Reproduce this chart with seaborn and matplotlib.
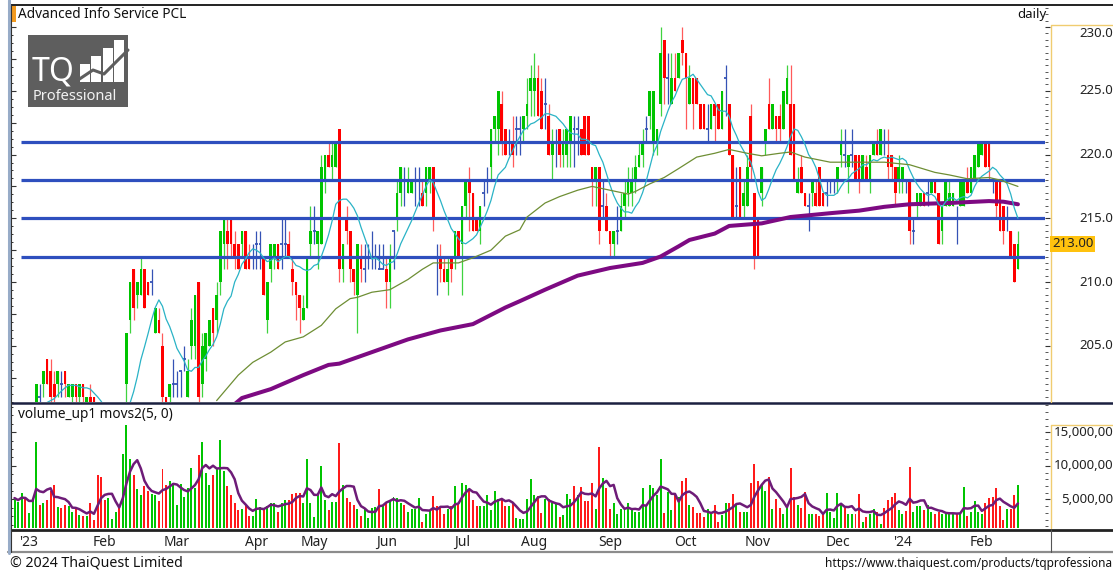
import numpy as np
import pandas as pd
import matplotlib
matplotlib.use("Agg")
import matplotlib.pyplot as plt
from matplotlib.patches import Rectangle
from matplotlib.ticker import MultipleLocator
from matplotlib.transforms import blended_transform_factory
import seaborn as sns

# ---------------- data (daily OHLC, THB) ----------------
open_px = [
    199, 199.5, 199.5, 200, 199, 199.5, 200, 201, 202, 204,
    203, 202, 202, 202, 203, 201, 201, 202, 201, 202,
    200.5, 201, 201, 200, 199, 198.5, 197.5, 198, 198.5, 199,
    198.5, 202, 207, 211, 209, 209, 211, 210, 210, 206,
    207, 205, 201, 201, 202, 202, 203, 204, 201, 205,
    205, 210, 202, 204, 205, 208, 207, 210, 213, 214,
    215, 213, 213, 213, 214, 212, 212, 213, 213, 212,
    207, 211, 212, 213, 213, 213, 213, 211, 210, 209,
    207, 208, 213, 214, 213, 213, 218, 220, 219, 219,
    222, 211, 215, 214, 211, 209, 212, 211, 212, 212,
    212, 211, 211, 211, 210, 214, 215, 217, 218, 217,
    217, 218, 218, 217, 217, 218, 219, 212, 212, 211,
    210, 212, 212, 214, 213, 216, 218, 217, 215, 214,
    217, 218, 219, 222, 222, 224, 222, 221, 221, 222,
    222, 222, 223, 225, 225, 226, 225, 224, 223, 220,
    221, 222, 220, 220, 221, 222, 222, 222, 223, 223,
    219, 218, 219, 216, 216, 214, 213, 214, 214, 216,
    217, 217, 218, 219, 220, 222, 223, 221, 221, 224,
    229, 226, 224, 226, 226, 229, 228, 224, 226, 226,
    224, 224, 222, 222, 224, 224, 222, 226, 224, 220,
    216, 219, 216, 216, 223, 217, 215, 217, 221, 224,
    222, 223, 223, 222, 224, 224, 224, 217, 219, 217,
    216, 217, 217, 219, 217, 217, 218, 218, 218, 220,
    220, 219, 220, 220, 220, 218, 219, 218, 220, 221,
    220, 221, 220, 220, 219, 218, 218, 218, 218, 214,
    216, 216, 217, 217, 217, 218, 217, 214, 216, 216,
    216, 215, 216, 216, 218, 217, 218, 219, 220, 221,
    221, 218, 218, 218, 216, 215, 214, 213, 211]

high_px = [
    200, 200, 200.5, 200.5, 200, 200.5, 202, 202, 203, 204,
    204, 203, 203, 203, 203, 202, 202, 202, 202, 202,
    201, 202, 201, 200.5, 199.5, 199, 198.5, 199, 199.5, 199.5,
    200, 206, 210, 211, 210, 212, 211, 210, 211, 208,
    208, 206, 201, 202, 204, 203, 203, 205, 204, 208,
    209, 210, 206, 206, 207, 208, 210, 214, 215, 215,
    215, 214, 213, 214, 214, 213, 213, 214, 214, 212,
    210, 213, 213, 213, 215, 215, 214, 212, 210, 209,
    209, 212, 216, 216, 214, 220, 220, 221, 221, 221,
    222, 213, 216, 214, 211, 213, 213, 213, 213, 214,
    213, 213, 213, 212, 213, 214, 218, 219, 219, 219,
    218, 219, 219, 218, 219, 219, 219, 213, 213, 212,
    212, 212, 214, 214, 216, 218, 219, 217, 215, 216,
    218, 219, 222, 223, 225, 225, 222, 222, 223, 223,
    223, 223, 226, 227, 228, 227, 226, 226, 224, 222,
    222, 222, 222, 222, 223, 223, 223, 222, 223, 223,
    219, 219, 219, 218, 217, 214, 214, 216, 217, 218,
    219, 219, 220, 221, 222, 223, 225, 225, 222, 230,
    229, 228, 228, 228, 228, 230, 228, 227, 226, 226,
    224, 224, 224, 224, 224, 224, 225, 227, 224, 220,
    219, 219, 218, 220, 224, 217, 215, 219, 222, 226,
    224, 223, 224, 225, 227, 227, 224, 219, 220, 217,
    217, 218, 218, 219, 217, 218, 218, 218, 219, 222,
    222, 220, 222, 220, 220, 220, 220, 220, 221, 222,
    222, 222, 222, 220, 219, 220, 219, 218, 218, 215,
    217, 217, 217, 218, 218, 218, 217, 216, 218, 218,
    217, 216, 218, 218, 219, 219, 220, 221, 221, 221,
    221, 218, 218, 218, 216, 216, 214, 213, 214]

low_px = [
    198.5, 199, 199, 199, 198.5, 199, 200, 200.5, 201, 202,
    200.5, 200.5, 201, 201, 201, 201, 200.5, 200.5, 200.5, 200.5,
    200, 200, 199.5, 199, 198, 197, 197, 197.5, 198, 198,
    198.5, 200, 206, 207, 208, 209, 208, 209, 209, 206,
    206, 200, 200, 200.5, 201, 201, 201, 203, 201, 204,
    204, 200, 201, 203, 205, 205, 206, 209, 211, 211,
    212, 211, 211, 212, 211, 211, 211, 211, 211, 209,
    206, 210, 211, 211, 211, 212, 212, 209, 207, 206,
    207, 208, 212, 213, 211, 213, 217, 219, 218, 219,
    210, 210, 213, 210, 209, 206, 210, 210, 211, 211,
    211, 211, 211, 208, 208, 211, 214, 216, 216, 217,
    217, 216, 216, 216, 216, 217, 214, 209, 210, 210,
    209, 210, 211, 212, 209, 215, 214, 214, 214, 213,
    216, 217, 218, 221, 220, 220, 220, 220, 219, 220,
    220, 221, 222, 223, 223, 223, 222, 222, 220, 218,
    219, 219, 219, 219, 219, 219, 220, 220, 220, 220,
    216, 216, 213, 215, 214, 212, 212, 213, 214, 215,
    216, 216, 217, 219, 219, 221, 222, 220, 220, 223,
    224, 224, 224, 225, 226, 227, 222, 224, 222, 224,
    222, 222, 221, 222, 221, 222, 222, 223, 220, 215,
    215, 215, 215, 216, 218, 211, 212, 216, 220, 222,
    222, 221, 221, 222, 224, 220, 218, 217, 217, 216,
    214, 216, 216, 216, 216, 216, 217, 217, 217, 219,
    219, 217, 219, 218, 217, 218, 218, 217, 220, 220,
    220, 220, 218, 218, 216, 217, 217, 217, 213, 213,
    215, 216, 216, 216, 217, 217, 213, 213, 216, 216,
    216, 213, 216, 216, 217, 217, 218, 219, 220, 219,
    218, 217, 215, 214, 213, 214, 212, 210, 211]

close_px = [
    199.5, 199.5, 200, 199, 199.5, 200, 202, 201, 203, 202,
    201, 201, 203, 202, 202, 202, 202, 201, 202, 201,
    201, 200, 200, 199, 198.5, 197.5, 198, 198.5, 199, 198.5,
    200, 206, 210, 208, 210, 211, 208, 209, 210, 208,
    206, 201, 200, 202, 202, 202, 203, 204, 203, 207,
    209, 201, 205, 206, 207, 206, 209, 214, 215, 213,
    213, 212, 211, 214, 211, 211, 212, 213, 213, 209,
    210, 213, 213, 211, 213, 213, 212, 210, 209, 208,
    208, 212, 214, 214, 214, 219, 220, 219, 220, 221,
    211, 213, 214, 211, 210, 213, 211, 211, 212, 212,
    212, 211, 211, 210, 212, 214, 217, 219, 218, 218,
    218, 218, 218, 216, 219, 219, 215, 212, 211, 210,
    211, 211, 214, 212, 216, 218, 217, 214, 214, 216,
    217, 218, 222, 223, 225, 221, 220, 221, 220, 222,
    222, 223, 224, 226, 226, 223, 222, 224, 220, 221,
    221, 220, 221, 222, 223, 222, 222, 220, 220, 220,
    218, 219, 214, 216, 214, 213, 214, 214, 216, 217,
    218, 218, 219, 220, 221, 222, 225, 225, 222, 228,
    226, 226, 226, 225, 228, 228, 226, 226, 224, 224,
    222, 222, 222, 224, 223, 222, 225, 226, 220, 215,
    216, 215, 217, 219, 219, 212, 212, 219, 222, 222,
    224, 222, 222, 225, 226, 220, 218, 218, 217, 216,
    216, 218, 216, 216, 216, 217, 218, 218, 219, 221,
    220, 220, 220, 218, 218, 220, 218, 220, 221, 220,
    222, 221, 219, 219, 217, 219, 219, 218, 214, 214,
    217, 217, 216, 217, 218, 217, 213, 216, 218, 217,
    217, 215, 218, 218, 217, 219, 220, 221, 221, 219,
    219, 218, 216, 214, 214, 215, 212, 210, 213]

# volume in millions of shares
volume_m = [
    5.2, 4.6, 6.0, 5.1, 3.0, 5.2, 13.5, 4.2, 4.5, 4.9,
    6.2, 7.2, 3.9, 3.7, 4.2, 4.0, 3.1, 3.7, 2.7, 2.6,
    2.5, 4.5, 2.0, 8.7, 8.3, 4.9, 5.2, 2.1, 3.1, 3.7,
    11.8, 16.1, 11.0, 8.7, 6.6, 5.6, 7.0, 6.3, 5.8, 5.6,
    4.7, 9.5, 7.2, 7.7, 7.5, 4.2, 7.3, 5.3, 6.7, 9.7,
    6.7, 11.6, 13.6, 9.0, 7.2, 8.7, 9.5, 13.8, 9.2, 7.0,
    5.6, 4.4, 3.5, 3.6, 4.2, 2.6, 2.6, 5.0, 3.9, 3.7,
    4.0, 4.5, 4.5, 3.1, 4.5, 4.9, 4.9, 5.8, 6.0, 6.0,
    4.5, 11.0, 4.5, 2.4, 6.0, 10.0, 4.9, 3.4, 4.6, 4.6,
    13.4, 7.2, 5.2, 4.6, 4.1, 3.6, 2.5, 3.6, 2.2, 3.7,
    3.9, 6.6, 4.0, 4.5, 4.9, 5.3, 5.2, 4.5, 4.1, 3.1,
    3.6, 3.6, 5.2, 1.6, 2.9, 3.4, 5.5, 4.0, 3.7, 2.9,
    3.6, 4.0, 7.0, 4.5, 7.5, 7.2, 6.5, 4.9, 4.0, 4.0,
    4.0, 5.7, 3.4, 6.2, 5.0, 5.1, 4.0, 4.0, 4.6, 2.2,
    2.1, 2.1, 5.0, 8.1, 5.7, 5.5, 3.0, 5.0, 5.1, 4.5,
    4.5, 2.4, 2.7, 5.8, 5.0, 7.0, 5.7, 6.8, 4.7, 4.7,
    7.5, 3.6, 12.8, 8.2, 6.7, 3.6, 4.5, 2.9, 3.6, 3.4,
    4.5, 3.4, 3.1, 3.1, 6.7, 4.0, 7.2, 6.7, 5.7, 11.0,
    3.0, 6.1, 3.4, 5.6, 5.3, 7.7, 8.2, 4.1, 3.9, 3.0,
    3.0, 2.4, 3.6, 2.9, 4.1, 1.7, 2.7, 4.5, 4.5, 5.8,
    4.1, 3.1, 3.1, 3.1, 7.5, 10.3, 7.7, 7.2, 6.3, 8.3,
    3.6, 5.0, 3.7, 2.9, 4.0, 9.7, 5.3, 4.2, 3.7, 6.1,
    2.9, 2.9, 2.9, 2.6, 2.9, 6.0, 3.1, 2.2, 6.0, 4.5,
    3.7, 2.9, 2.9, 2.9, 5.8, 1.6, 2.4, 2.9, 3.6, 3.1,
    1.4, 3.8, 4.9, 5.3, 6.0, 3.5, 2.9, 3.3, 9.8, 3.1,
    4.0, 4.0, 3.4, 4.2, 3.2, 2.9, 3.1, 2.9, 2.9, 2.9,
    2.9, 2.9, 3.0, 6.8, 2.6, 3.2, 4.7, 3.1, 2.9, 4.4,
    5.2, 5.3, 6.7, 4.0, 2.0, 3.6, 3.6, 5.6, 7.2]

# slower averages drawn by the terminal (need history before the window) - read as points
olive_day = [56, 62, 66, 71, 75, 80, 85, 89, 93, 95, 99, 104, 109, 113, 116, 123, 127,
             132, 136, 140, 142, 147, 151, 156, 160, 165, 170, 172, 176, 180, 184, 189,
             194, 198, 203, 207, 212, 215, 219, 226, 231, 241, 248, 255, 259, 264, 270,
             273, 278]
olive_val = [200.7, 202.7, 203.7, 204.5, 205.3, 205.7, 206.6, 207.9, 208.7, 208.8, 209.2,
             209.4, 210.2, 211.0, 211.5, 211.5, 211.9, 212.5, 213.6, 214.1, 215.1, 216.2,
             216.7, 217.2, 217.5, 217.2, 216.9, 217.1, 217.7, 218.2, 218.9, 219.8, 220.1,
             220.4, 220.1, 219.9, 220.1, 220.2, 219.8, 219.4, 219.4, 219.4, 219.2, 218.6,
             218.4, 218.1, 218.2, 218.0, 217.5]
purple_day = [55, 63, 71, 80, 87, 90, 99, 109, 118, 127, 136, 140, 147, 156, 165, 174,
              179, 184, 187, 194, 198, 207, 215, 226, 234, 241, 248, 259, 270, 274, 278]
purple_val = [199.0, 200.9, 201.6, 202.7, 203.5, 203.6, 204.5, 205.5, 206.2, 206.7, 208.0,
              208.5, 209.4, 210.5, 211.1, 211.5, 212.0, 212.8, 213.3, 213.8, 214.4, 214.6,
              215.1, 215.4, 215.6, 215.9, 216.1, 216.2, 216.35, 216.3, 216.1]

support_levels = [221, 218, 215, 212]
price_ticks = [205, 210, 215, 220, 225, 230]
volume_ticks_m = [5, 10, 15]
last_price_label = "213.00"
month_labels = ["'23", "Feb", "Mar", "Apr", "May", "Jun", "Jul", "Aug",
                "Sep", "Oct", "Nov", "Dec", "'24", "Feb"]
set_holidays = ["2022-12-30", "2023-01-02", "2023-03-06", "2023-04-06", "2023-04-13",
                "2023-04-14", "2023-04-17", "2023-05-01", "2023-05-04", "2023-05-05",
                "2023-06-05", "2023-07-28", "2023-08-01", "2023-08-14", "2023-10-13",
                "2023-10-23", "2023-12-05", "2023-12-11", "2023-12-29", "2024-01-01"]

# ---------------- style ----------------
sns.set_theme(style="white")
plt.rcParams["font.family"] = ["Noto Sans", "DejaVu Sans"]

GREEN, GREEN_W = "#00C400", "#3FD33F"
RED, RED_W = "#FF0000", "#FF5A5A"
DOJI = "#3552B5"
LINE_BLUE = "#2E4FBE"

N = min(len(open_px), len(high_px), len(low_px), len(close_px), len(volume_m))
o = np.array(open_px[:N], float)
h = np.array(high_px[:N], float)
l = np.array(low_px[:N], float)
c = np.array(close_px[:N], float)
v = np.array(volume_m[:N], float)
x = np.arange(N)

dates = pd.bdate_range("2022-12-26", "2024-02-15", freq="C", holidays=set_holidays)[:N]
month_start = [i for i in range(1, len(dates)) if dates[i].month != dates[i - 1].month]

W, H = 1113, 573
fig = plt.figure(figsize=(W / 100, H / 100), dpi=100)
fig.patch.set_facecolor("white")


def px_box(left, top, right, bottom):
    return [left / W, 1 - bottom / H, (right - left) / W, (bottom - top) / H]


ax = fig.add_axes(px_box(10, 5, 1045, 402))
axv = fig.add_axes(px_box(10, 404, 1045, 528), sharex=ax)
XMIN, XMAX = -1.25, 285.5
PMIN, PMAX = 200.59, 231.73
ax.set_xlim(XMIN, XMAX)
ax.set_ylim(PMIN, PMAX)
axv.set_ylim(0.75, 19.2)

# ---------------- candles ----------------
up, dn, flat = c > o, c < o, c == o
body_col = np.where(up, GREEN, np.where(dn, RED, DOJI))
wick_col = np.where(up, GREEN_W, np.where(dn, RED_W, DOJI))
ax.vlines(x, l, h, colors=wick_col, lw=0.9, zorder=2)
body = ~flat
ax.bar(x[body], np.abs(c - o)[body], bottom=np.minimum(o, c)[body], width=0.74,
       color=body_col[body], linewidth=0, zorder=2)
ax.hlines(c[flat], x[flat] - 0.4, x[flat] + 0.4, colors=DOJI, lw=1.3, zorder=2)

# support / resistance lines
ax.hlines(support_levels, 1.7, XMAX, colors=LINE_BLUE, lw=2.3, zorder=3)

# moving averages
ma10 = pd.Series(c).rolling(10).mean()
ok = ma10.notna().values
sns.lineplot(x=x[ok], y=ma10.values[ok], ax=ax, color="#2AB3C6", lw=0.9,
             estimator=None, zorder=5)
sns.lineplot(x=olive_day, y=olive_val, ax=ax, color="#6E8E34", lw=0.9,
             estimator=None, zorder=5)
sns.lineplot(x=purple_day, y=purple_val, ax=ax, color="#7D0A82", lw=2.9,
             estimator=None, zorder=4)

# ---------------- volume ----------------
prev = np.r_[c[0], c[:-1]]
vol_up = np.where(flat, c >= prev, up)
axv.bar(x, v, width=0.55, color=np.where(vol_up, GREEN, "#FF1A1A"), linewidth=0, zorder=2)
vma = pd.Series(v).rolling(5, min_periods=1).mean()
sns.lineplot(x=x, y=vma.values, ax=axv, color="#6E1C78", lw=1.8, estimator=None, zorder=4)

# ---------------- axes cosmetics ----------------
for a in (ax, axv):
    a.set_xlabel("")
    a.set_ylabel("")
    a.set_facecolor("white")
    for s in a.spines.values():
        s.set_visible(False)

ax.tick_params(axis="x", which="both", bottom=False, labelbottom=False)
ax.yaxis.set_major_locator(MultipleLocator(2.5))
ax.yaxis.set_minor_locator(MultipleLocator(0.625))
axv.yaxis.set_major_locator(MultipleLocator(5))
axv.yaxis.set_minor_locator(MultipleLocator(1.25))
for a in (ax, axv):
    a.tick_params(axis="y", which="major", left=True, right=False, direction="in",
                  length=4.5, width=0.8, color="#333", labelleft=False)
    a.tick_params(axis="y", which="minor", left=True, right=False, direction="in",
                  length=2.2, width=0.7, color="#333")

axv.set_xticks(month_start)
axv.set_xticklabels(month_labels[:len(month_start)])
axv.tick_params(axis="x", which="both", bottom=False, length=0, pad=5, labelsize=10,
                labelcolor="#222")
for t in axv.get_xticklabels():
    if t.get_text().startswith("'"):
        t.set_fontweight("bold")

# right-hand tick marks (labels are drawn right-aligned past the window edge, as in TQ)
axr = ax.twinx()
axr.set_ylim(ax.get_ylim())
axr.yaxis.set_major_locator(MultipleLocator(5))
axr.yaxis.set_minor_locator(MultipleLocator(0.5))
axvr = axv.twinx()
axvr.set_ylim(axv.get_ylim())
axvr.yaxis.set_major_locator(MultipleLocator(5))
axvr.yaxis.set_minor_locator(MultipleLocator(1))
for a in (axr, axvr):
    a.grid(False)
    a.tick_params(axis="y", which="major", right=True, left=False, direction="out",
                  length=3.6, width=0.8, color="#333", labelright=False)
    a.tick_params(axis="y", which="minor", right=True, left=False, direction="out",
                  length=1.8, width=0.7, color="#555")
    for s in a.spines.values():
        s.set_visible(False)

# ---------------- frame, labels, logo (pixel overlay) ----------------
ov = fig.add_axes([0, 0, 1, 1], zorder=10)
ov.set_xlim(0, W)
ov.set_ylim(H, 0)
ov.axis("off")
ov.patch.set_alpha(0)

ov.plot([10, W], [5, 5], color="#222222", lw=1.4)
ov.plot([10, W], [402.5, 402.5], color="#1B2040", lw=1.8)
ov.plot([10, W], [529.5, 529.5], color="#222222", lw=2.0)
ov.plot([8, W], [552, 552], color="#8C8C8C", lw=1.6)
ov.plot([8.5, 8.5], [0, 553], color="#98ACC8", lw=2.2)
ov.plot([10.8, 10.8], [5, 552], color="#333333", lw=0.8)
ov.plot([1050.5, 1050.5], [530, 552], color="#555555", lw=0.8)
ov.plot([1051, 1051, W], [402, 25, 25], color="#F0CC70", lw=1.0)
ov.plot([1051, 1051, W], [528, 425, 425], color="#F0CC70", lw=1.0)

# right axis labels, placed on the data scale of each panel
tr_p = blended_transform_factory(ov.transData, ax.transData)
tr_v = blended_transform_factory(ov.transData, axv.transData)
top_clamp = PMAX - (33.5 - 5) * (PMAX - PMIN) / 397
for p in price_ticks:
    ov.text(1121, min(p, top_clamp), f"{p:.2f}", transform=tr_p, fontsize=9.5,
            ha="right", va="center", color="#222", clip_on=False)
for m in volume_ticks_m:
    ov.text(1121, m, f"{m * 1_000_000:,}", transform=tr_v, fontsize=9.5,
            ha="right", va="center", color="#222", clip_on=False)
ov.text(1052, float(last_price_label), last_price_label, transform=tr_p, fontsize=9.5,
        va="center", ha="left", color="#222",
        bbox=dict(boxstyle="square,pad=0.12", fc="#FFC20E", ec="none"))

ov.add_patch(Rectangle((11.5, 6), 4.5, 16, color="#F29A1F", lw=0))
ov.text(18, 14.5, "Advanced Info Service PCL", fontsize=9.8, va="center", ha="left",
        color="#111")
ov.text(1046, 14.5, "daily", fontsize=9.5, va="center", ha="right", color="#111")
ov.text(18, 414.5, "volume_up1 movs2(5, 0)", fontsize=9.8, va="center", ha="left",
        color="#111")
ov.text(10, 563, "\u00a9 2024 ThaiQuest Limited", fontsize=10.2, va="center", ha="left",
        color="#111")
ov.text(825, 564, "https://www.thaiquest.com/products/tqprofessional/", fontsize=8.5,
        va="center", ha="left", color="#111")

# TQ Professional logo
LOGO = "#5E5E5E"
ov.add_patch(Rectangle((28, 35), 100, 72, color=LOGO, lw=0))
ov.text(32, 72, "TQ", fontsize=23, fontweight="bold", color="white", va="center", ha="left")
for bx, top in [(80, 64), (91, 56), (103, 48), (114, 40)]:
    ov.add_patch(Rectangle((bx, top), 10, 82 - top, color="white", lw=0))
ov.plot([78, 93, 104, 128], [80, 70, 74, 50], color=LOGO, lw=2.2)
ov.text(33, 96, "Professional", fontsize=10.5, fontweight="semibold", color="#F2F2F2",
        va="center", ha="left")

fig.savefig("out.png", dpi=100)
